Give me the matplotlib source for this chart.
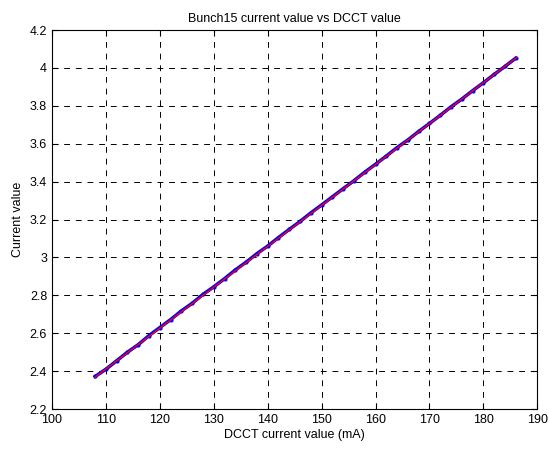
import matplotlib.pyplot as plt

plt.rcParams['font.family'] = ['Liberation Sans', 'DejaVu Sans']

dcct = [108, 110, 112, 114, 116, 118, 120, 122, 124, 126,
        128, 130, 132, 134, 136, 138, 140, 142, 144, 146,
        148, 150, 152, 154, 156, 158, 160, 162, 164, 166,
        168, 170, 172, 174, 176, 178, 180, 182, 184, 186]
bunch = [2.372, 2.410, 2.455, 2.500, 2.540, 2.588, 2.630, 2.672, 2.718, 2.758,
         2.805, 2.845, 2.888, 2.934, 2.975, 3.020, 3.060, 3.105, 3.148, 3.190,
         3.235, 3.277, 3.320, 3.363, 3.405, 3.450, 3.492, 3.535, 3.580, 3.620,
         3.665, 3.707, 3.750, 3.795, 3.836, 3.880, 3.922, 3.966, 4.008, 4.052]

# linear fit endpoints
fit_x = [108, 186.2]
fit_y = [2.368, 4.056]

xticks = [100, 110, 120, 130, 140, 150, 160, 170, 180, 190]
yticks = [2.2, 2.4, 2.6, 2.8, 3.0, 3.2, 3.4, 3.6, 3.8, 4.0, 4.2]
yticklabels = ['2.2', '2.4', '2.6', '2.8', '3', '3.2', '3.4', '3.6', '3.8', '4', '4.2']

fig = plt.figure(figsize=(5.49, 4.49), dpi=100)
ax = fig.add_axes([0.0947, 0.089, 0.884, 0.844])

ax.plot(dcct, bunch, color='blue', linewidth=2.5, marker='.', markersize=4)
ax.plot(fit_x, fit_y, color='red', linewidth=1)

ax.set_xlim(100, 190)
ax.set_ylim(2.2, 4.2)
ax.set_xticks(xticks)
ax.set_yticks(yticks)
ax.set_yticklabels(yticklabels)
ax.tick_params(direction='in', labelsize=9, length=4, top=True, right=True)
ax.grid(True, color='black', linestyle=(0, (6, 6)), linewidth=0.7)

ax.set_title('Bunch15 current value vs DCCT value', fontsize=9)
ax.set_xlabel('DCCT current value (mA)', fontsize=9, labelpad=2)
ax.set_ylabel('Current value', fontsize=9)

fig.savefig('out.png', dpi=100)
